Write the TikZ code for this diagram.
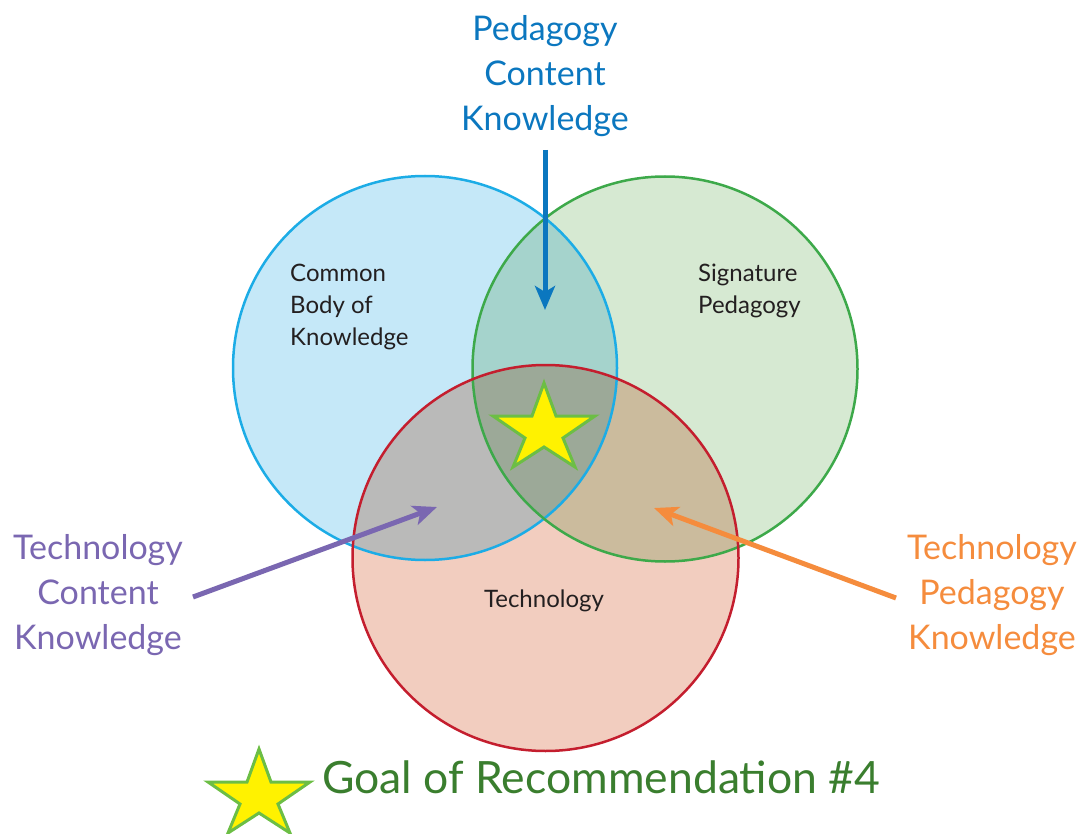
\documentclass[tikz,border=0pt]{standalone}
\usepackage{fontspec}
\setmainfont{Lato}
\usetikzlibrary{arrows.meta}

\definecolor{cbkfill}{HTML}{C5E8F8}
\definecolor{cbkline}{HTML}{1CACE6}
\definecolor{sigfill}{HTML}{D6E9D2}
\definecolor{sigline}{HTML}{3DA94A}
\definecolor{techfill}{HTML}{F2CDBF}
\definecolor{techline}{HTML}{C41E2E}
\definecolor{pckcol}{HTML}{0B77BF}
\definecolor{tckcol}{HTML}{7A67B1}
\definecolor{tpkcol}{HTML}{F58C3D}
\definecolor{goalcol}{HTML}{3A7E2E}
\definecolor{inkcol}{HTML}{231F20}
\definecolor{staryellow}{HTML}{FFF200}
\definecolor{staredge}{HTML}{6CBE45}

\tikzset{
  bigring/.style={line width=2.5pt},
  biglabel/.style={align=center, inner sep=0pt, font=\fontsize{34}{45}\selectfont},
  smalllabel/.style={align=left, inner sep=0pt, text=inkcol, font=\fontsize{24}{32}\selectfont},
  pointer/.style={line width=5pt, -{Stealth[length=24pt, width=20pt, inset=6pt]}},
  goalstar/.pic={
    \filldraw[fill=staryellow, draw=staredge, line width=3pt, line join=miter]
      (0,0) -- (12,33) -- (51,33) -- (19,55) -- (31,84) -- (0,64)
      -- (-31,84) -- (-19,55) -- (-51,33) -- (-12,33) -- cycle;
  }
}

\begin{document}
\begin{tikzpicture}[x=1pt, y=-1pt]
  \useasboundingbox (0,0) rectangle (1084,834);

  % the three knowledge domains, overlaps mixed by multiplication
  \begin{scope}[blend group=multiply]
    \fill[cbkfill]  (425,368) circle (192);
    \fill[sigfill]  (665,369) circle (192.5);
    \fill[techfill] (545.5,558) circle (193);
  \end{scope}
  \draw[bigring, cbkline]  (425,368) circle (192);
  \draw[bigring, sigline]  (665,369) circle (192.5);
  \draw[bigring, techline] (545.5,558) circle (193);

  % names of the domains
  \node[smalllabel, anchor=west] (cbk) at (290,307) {Common\\Body of\\Knowledge};
  \node[smalllabel, anchor=west] (sig) at (698,291) {Signature\\Pedagogy};
  \node[smalllabel, anchor=center] (tech) at (544,601) {Technology};

  % centre star: all three domains together
  \pic at (544,383) {goalstar};

  % intersection labels and their pointers
  \node[biglabel, text=pckcol] (pck) at (545,76) {Pedagogy\\Content\\Knowledge};
  \node[biglabel, text=tckcol] (tck) at (98,595) {Technology\\Content\\Knowledge};
  \node[biglabel, text=tpkcol] (tpk) at (992,595) {Technology\\Pedagogy\\Knowledge};

  \coordinate (pck-tail) at (545,150);
  \coordinate (pck-tip)  at (545,310);
  \coordinate (tck-tail) at (193,597);
  \coordinate (tck-tip)  at (437,507);
  \coordinate (tpk-tail) at (896,598);
  \coordinate (tpk-tip)  at (654,508);

  \draw[pointer, pckcol] (pck-tail) -- (pck-tip);
  \draw[pointer, tckcol] (tck-tail) -- (tck-tip);
  \draw[pointer, tpkcol] (tpk-tail) -- (tpk-tip);

  % legend
  \pic at (259,749) {goalstar};
  \node[anchor=base west, inner sep=0pt, text=goalcol,
        font=\fontsize{44.5}{52}\selectfont] (goal) at (322,793) {Goal of Recommendation \#4};
\end{tikzpicture}
\end{document}
